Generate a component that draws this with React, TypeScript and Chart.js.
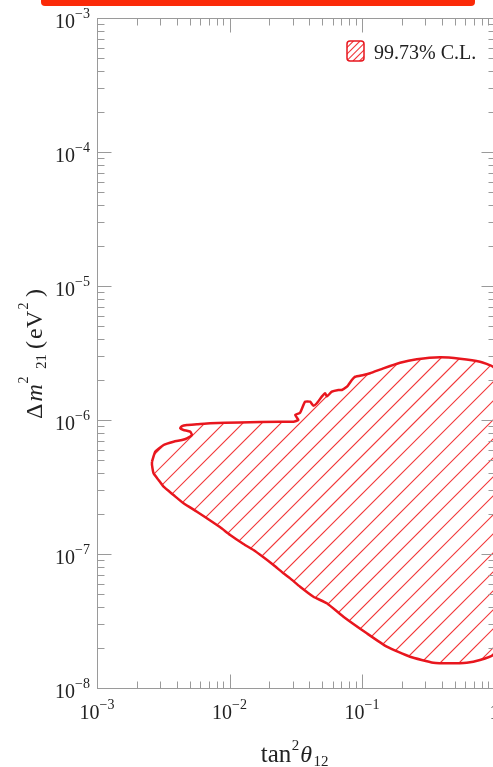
import React, { useEffect, useRef } from 'react';
import { Chart, registerables } from 'chart.js';

Chart.register(...registerables);

// ---- data (contour of the 99.73% C.L. region) ----
const tan2Theta = [
  0.0026, 0.00275, 0.00318, 0.00378, 0.00438, 0.00477, 0.0052, 0.00505, 0.0045, 0.00425,
  0.00438, 0.00477, 0.00568, 0.00715, 0.012, 0.0241, 0.0304, 0.0331, 0.0313, 0.0341,
  0.0372, 0.0406, 0.043, 0.0456, 0.0497, 0.0527, 0.0543, 0.0592, 0.0664, 0.0704,
  0.0768, 0.0789, 0.0838, 0.0887, 0.1025, 0.1151, 0.145, 0.1938, 0.259, 0.388,
  0.549, 0.777, 0.974, 1.2, 1.56, 1.7, 1.56, 1.2, 0.974, 0.777,
  0.617, 0.462, 0.3455, 0.2305, 0.1538, 0.1087, 0.0724, 0.0543, 0.043, 0.0341,
  0.0287, 0.02553, 0.02147, 0.01805, 0.01517, 0.01275, 0.01012, 0.00851, 0.00675, 0.00568,
  0.0045, 0.00378, 0.00318, 0.002914, 0.002672, 0.0026,
];
const deltaM2 = [
  4.88e-7, 5.8e-7, 6.51e-7, 6.89e-7, 7.09e-7, 7.3e-7, 7.73e-7, 8.18e-7, 8.42e-7, 8.67e-7,
  9.02e-7, 9.18e-7, 9.29e-7, 9.45e-7, 9.58e-7, 9.71e-7, 9.71e-7, 1.0e-6, 1.09e-6, 1.134e-6,
  1.37e-6, 1.37e-6, 1.28e-6, 1.333e-6, 1.493e-6, 1.582e-6, 1.5e-6, 1.626e-6, 1.675e-6, 1.675e-6,
  1.772e-6, 1.825e-6, 1.988e-6, 2.103e-6, 2.166e-6, 2.231e-6, 2.43e-6, 2.676e-6, 2.838e-6, 2.937e-6,
  2.867e-6, 2.723e-6, 2.498e-6, 2.0e-6, 1.1e-6, 3.5e-7, 6e-8, 2.4e-8, 1.763e-8, 1.618e-8,
  1.545e-8, 1.529e-8, 1.545e-8, 1.712e-8, 2.033e-8, 2.559e-8, 3.404e-8, 4.285e-8, 4.8e-8, 5.7e-8,
  6.58e-8, 7.18e-8, 8.28e-8, 9.45e-8, 1.071e-7, 1.187e-7, 1.386e-7, 1.582e-7, 1.847e-7, 2.068e-7,
  2.389e-7, 2.756e-7, 3.178e-7, 3.566e-7, 4.0e-7, 4.62e-7,
];

const xMin = 1e-3;
const xMax = 1;
const yMin = 1e-8;
const yMax = 1e-3;
const xTickValues = [1e-3, 1e-2, 1e-1, 1];
const xTickLabels = [['10', '\u22123'], ['10', '\u22122'], ['10', '\u22121'], ['1', '']];
const yTickValues = [1e-8, 1e-7, 1e-6, 1e-5, 1e-4, 1e-3];
const yTickLabels = [
  ['10', '\u22128'], ['10', '\u22127'], ['10', '\u22126'],
  ['10', '\u22125'], ['10', '\u22124'], ['10', '\u22123'],
];
const legendLabel = '99.73% C.L.';

const SERIF = '"Liberation Serif", "DejaVu Serif", serif';
const LINE_RED = '#e8161e';
const HATCH_RED = '#f23a3c';
const FRAME = '#9a9a9a';
const TEXT = '#222222';
const HATCH_STEP = 19;

function drawPow(ctx: CanvasRenderingContext2D, base: string, exp: string, x: number, y: number, align: 'center' | 'right') {
  ctx.textAlign = 'left';
  ctx.textBaseline = 'alphabetic';
  ctx.font = `20px ${SERIF}`;
  const wb = ctx.measureText(base).width;
  ctx.font = `14px ${SERIF}`;
  const we = exp ? ctx.measureText(exp).width : 0;
  const total = wb + we;
  const sx = align === 'center' ? x - total / 2 : x - total;
  ctx.font = `20px ${SERIF}`;
  ctx.fillText(base, sx, y);
  if (exp) {
    ctx.font = `14px ${SERIF}`;
    ctx.fillText(exp, sx + wb, y - 10);
  }
}

function roundRectPath(ctx: CanvasRenderingContext2D, x: number, y: number, w: number, h: number, r: number) {
  ctx.beginPath();
  ctx.moveTo(x + r, y);
  ctx.lineTo(x + w - r, y);
  ctx.quadraticCurveTo(x + w, y, x + w, y + r);
  ctx.lineTo(x + w, y + h - r);
  ctx.quadraticCurveTo(x + w, y + h, x + w - r, y + h);
  ctx.lineTo(x + r, y + h);
  ctx.quadraticCurveTo(x, y + h, x, y + h - r);
  ctx.lineTo(x, y + r);
  ctx.quadraticCurveTo(x, y, x + r, y);
  ctx.closePath();
}

// hatch drawn inside the dataset's own line path, before the outline is stroked
const hatchPlugin = {
  id: 'hatch',
  beforeDatasetDraw(chart: any, args: any) {
    const meta = args.meta;
    const line = meta && meta.dataset;
    if (!line || !line.points || !line.points.length) return;
    const ctx: CanvasRenderingContext2D = chart.ctx;
    const { left, right, top, bottom } = chart.chartArea;
    ctx.save();
    ctx.beginPath();
    ctx.rect(left, top, right - left, bottom - top);
    ctx.clip();
    ctx.beginPath();
    line.path(ctx);
    ctx.closePath();
    ctx.clip();
    ctx.strokeStyle = HATCH_RED;
    ctx.lineWidth = 1.2;
    ctx.beginPath();
    const h = Math.round(bottom - top);
    const x0 = Math.round(left) - h;
    for (let c = x0; c < right + 20; c += HATCH_STEP) {
      ctx.moveTo(c, Math.round(bottom));
      ctx.lineTo(c + h, Math.round(bottom) - h);
    }
    ctx.stroke();
    ctx.restore();
  },
};

const decorPlugin = {
  id: 'decor',
  afterDatasetsDraw(chart: any) {
    const ctx: CanvasRenderingContext2D = chart.ctx;
    const { left, right, top, bottom } = chart.chartArea;
    const xs = chart.scales.x;
    const ys = chart.scales.y;
    ctx.save();

    // red bar at the very top
    ctx.fillStyle = '#fb2a08';
    roundRectPath(ctx, 41, -6, 434, 12, 4);
    ctx.fill();

    // frame
    ctx.strokeStyle = FRAME;
    ctx.lineWidth = 1;
    const L = Math.round(left) + 0.5;
    const R = Math.round(right) + 0.5;
    const T = Math.round(top) + 0.5;
    const B = Math.round(bottom) + 0.5;
    ctx.strokeRect(L, T, R - L, B - T);

    const major = 14;
    const minor = 7;
    ctx.beginPath();
    for (let e = Math.log10(xMin); e <= Math.log10(xMax); e++) {
      for (let k = 1; k <= 9; k++) {
        const v = k * Math.pow(10, e);
        if (v > xMax * 1.0001) break;
        const px = Math.round(xs.getPixelForValue(v)) + 0.5;
        const len = k === 1 ? major : minor;
        ctx.moveTo(px, B);
        ctx.lineTo(px, B - len);
        ctx.moveTo(px, T);
        ctx.lineTo(px, T + len);
      }
    }
    for (let e = Math.log10(yMin); e <= Math.log10(yMax); e++) {
      for (let k = 1; k <= 9; k++) {
        const v = k * Math.pow(10, e);
        if (v > yMax * 1.0001) break;
        const py = Math.round(ys.getPixelForValue(v)) + 0.5;
        const len = k === 1 ? major : minor;
        ctx.moveTo(L, py);
        ctx.lineTo(L + len, py);
        ctx.moveTo(R, py);
        ctx.lineTo(R - len, py);
      }
    }
    ctx.stroke();

    // tick labels
    ctx.fillStyle = TEXT;
    xTickValues.forEach((v, i) => {
      const px = xs.getPixelForValue(v);
      drawPow(ctx, xTickLabels[i][0], xTickLabels[i][1], px, bottom + 31, 'center');
    });
    yTickValues.forEach((v, i) => {
      const py = ys.getPixelForValue(v);
      drawPow(ctx, yTickLabels[i][0], yTickLabels[i][1], left - 7, py + 9.5, 'right');
    });

    // x title: tan^2 theta_12
    ctx.textAlign = 'left';
    ctx.textBaseline = 'alphabetic';
    const cx = (left + right) / 2;
    let sx = cx - 35;
    const by = 762;
    ctx.font = `25px ${SERIF}`;
    ctx.fillText('tan', sx, by);
    sx += ctx.measureText('tan').width + 0.5;
    ctx.font = `15px ${SERIF}`;
    ctx.fillText('2', sx, by - 12);
    sx += ctx.measureText('2').width + 1;
    ctx.font = `italic 24px ${SERIF}`;
    ctx.fillText('\u03B8', sx, by);
    sx += ctx.measureText('\u03B8').width + 1.5;
    ctx.font = `15px ${SERIF}`;
    ctx.fillText('12', sx, by + 4);

    // y title: Δm^2_21 (eV^2), rotated
    ctx.save();
    const cy = (top + bottom) / 2;
    ctx.translate(42, cy + 66);
    ctx.rotate(-Math.PI / 2);
    ctx.font = `24px ${SERIF}`;
    ctx.fillText('\u0394', 0, 0);
    ctx.font = `italic 24px ${SERIF}`;
    ctx.fillText('m', 17.5, 0);
    ctx.font = `14px ${SERIF}`;
    ctx.fillText('2', 35.5, -14);
    ctx.font = `15px ${SERIF}`;
    ctx.fillText('21', 50, 4);
    ctx.font = `24px ${SERIF}`;
    ctx.fillText('(', 70, 0);
    ctx.fillText('e', 80, 0);
    ctx.fillText('V', 91, 0);
    ctx.font = `14px ${SERIF}`;
    ctx.fillText('2', 109.5, -14);
    ctx.font = `24px ${SERIF}`;
    ctx.fillText(')', 122, 0);
    ctx.restore();

    // legend
    const bx = 347;
    const byy = 41;
    const bw = 17;
    const bh = 20;
    ctx.save();
    roundRectPath(ctx, bx, byy, bw, bh, 3);
    ctx.clip();
    ctx.strokeStyle = HATCH_RED;
    ctx.lineWidth = 1.1;
    ctx.beginPath();
    for (let o = -bh; o < bw + bh; o += 6.5) {
      ctx.moveTo(bx + o, byy + bh);
      ctx.lineTo(bx + o + bh, byy);
    }
    ctx.stroke();
    ctx.restore();
    ctx.strokeStyle = LINE_RED;
    ctx.lineWidth = 1.5;
    roundRectPath(ctx, bx, byy, bw, bh, 3);
    ctx.stroke();
    ctx.fillStyle = TEXT;
    ctx.font = `20px ${SERIF}`;
    ctx.textAlign = 'left';
    ctx.fillText(legendLabel, 374, 59);

    ctx.restore();
  },
};

export default function App() {
  const canvasRef = useRef<HTMLCanvasElement | null>(null);

  useEffect(() => {
    const canvas = canvasRef.current;
    if (!canvas) return;
    const points = tan2Theta.map((x, i) => ({ x, y: deltaM2[i] }));
    points.push({ ...points[0] });
    const chart = new Chart(canvas, {
      type: 'scatter',
      data: {
        datasets: [
          {
            label: legendLabel,
            data: points,
            showLine: true,
            borderColor: LINE_RED,
            borderWidth: 2.5,
            backgroundColor: 'rgba(0,0,0,0)',
            fill: false,
            pointRadius: 0,
            pointHoverRadius: 0,
            tension: 0.15,
          },
        ],
      },
      options: {
        responsive: false,
        maintainAspectRatio: false,
        animation: false,
        events: [],
        layout: { padding: { left: 97, top: 18, right: 510 - 494.5, bottom: 767 - 688 } },
        scales: {
          x: { type: 'logarithmic', min: xMin, max: xMax, display: false },
          y: { type: 'logarithmic', min: yMin, max: yMax, display: false },
        },
        plugins: {
          legend: { display: false },
          tooltip: { enabled: false },
          title: { display: false },
        },
      },
      plugins: [hatchPlugin, decorPlugin],
    });
    return () => chart.destroy();
  }, []);

  return (
    <div style={{ position: 'fixed', left: 0, top: 0, width: 493, height: 767, overflow: 'hidden', background: '#fff' }}>
      <canvas ref={canvasRef} width={510} height={767} style={{ display: 'block', width: 510, height: 767 }} />
    </div>
  );
}
